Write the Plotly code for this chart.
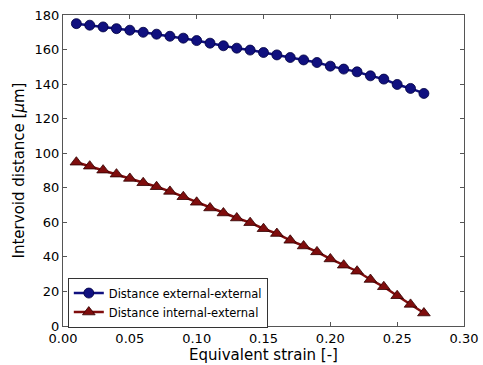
import plotly.graph_objects as go

strain = [0.01, 0.02, 0.03, 0.04, 0.05, 0.06, 0.07, 0.08, 0.09, 0.10, 0.11, 0.12, 0.13, 0.14,
          0.15, 0.16, 0.17, 0.18, 0.19, 0.20, 0.21, 0.22, 0.23, 0.24, 0.25, 0.26, 0.27]
ext_ext = [175.0, 174.1, 173.1, 172.1, 171.2, 170.0, 168.9, 167.7, 166.6, 165.2, 163.7, 162.2,
           160.8, 159.7, 158.3, 156.9, 155.4, 154.0, 152.5, 150.4, 148.7, 147.1, 144.8, 142.9,
           139.8, 137.5, 134.6]
int_ext = [94.8, 92.5, 90.2, 87.9, 85.4, 82.9, 80.6, 77.9, 74.8, 71.6, 68.3, 65.4, 62.5, 59.8,
           56.3, 53.5, 49.6, 46.3, 42.9, 38.8, 35.2, 31.7, 26.9, 22.7, 17.5, 12.5, 7.5]
x_ticks = [0.00, 0.05, 0.10, 0.15, 0.20, 0.25, 0.30]
y_ticks = [0, 20, 40, 60, 80, 100, 120, 140, 160, 180]

blue = "#10107f"
red = "#7f0d0d"

fig = go.Figure()
fig.add_trace(go.Scatter(
    x=strain, y=ext_ext, mode="lines+markers", name="Distance external-external",
    line=dict(color=blue, width=2.5),
    marker=dict(symbol="circle", size=10, color=blue, line=dict(color="#000040", width=0.8)),
))
fig.add_trace(go.Scatter(
    x=strain, y=int_ext, mode="lines+markers", name="Distance internal-external",
    line=dict(color=red, width=2.5),
    marker=dict(symbol="triangle-up", size=11, color=red, line=dict(color="#300000", width=0.8)),
))

axis_common = dict(
    showgrid=False, zeroline=False, showline=True, linecolor="#555555", linewidth=1.2,
    mirror="ticks", ticks="inside", ticklen=4, tickcolor="#555555", automargin=False,
    tickfont=dict(family="DejaVu Sans", size=13, color="black"),
)
fig.update_xaxes(range=[0, 0.30], tickvals=x_ticks, tickformat=".2f",
                 title=dict(text="Equivalent strain [-]", font=dict(family="DejaVu Sans", size=15, color="black"), standoff=2),
                 **axis_common)
fig.update_yaxes(range=[0, 180], tickvals=y_ticks,
                 title=dict(text="Intervoid distance [<i>μ</i>m]", font=dict(family="DejaVu Sans", size=15, color="black"), standoff=6),
                 **axis_common)

fig.update_layout(
    width=483, height=365,
    margin=dict(l=63, r=19, t=15, b=39, autoexpand=False),
    paper_bgcolor="white", plot_bgcolor="white",
    showlegend=True,
    legend=dict(x=0.012, y=-0.005, xanchor="left", yanchor="bottom",
                bgcolor="white", bordercolor="#333333", borderwidth=1,
                font=dict(family="DejaVu Sans", size=11.5, color="black"),
                tracegroupgap=0, itemwidth=30),
)
fig.write_html("out.html")
